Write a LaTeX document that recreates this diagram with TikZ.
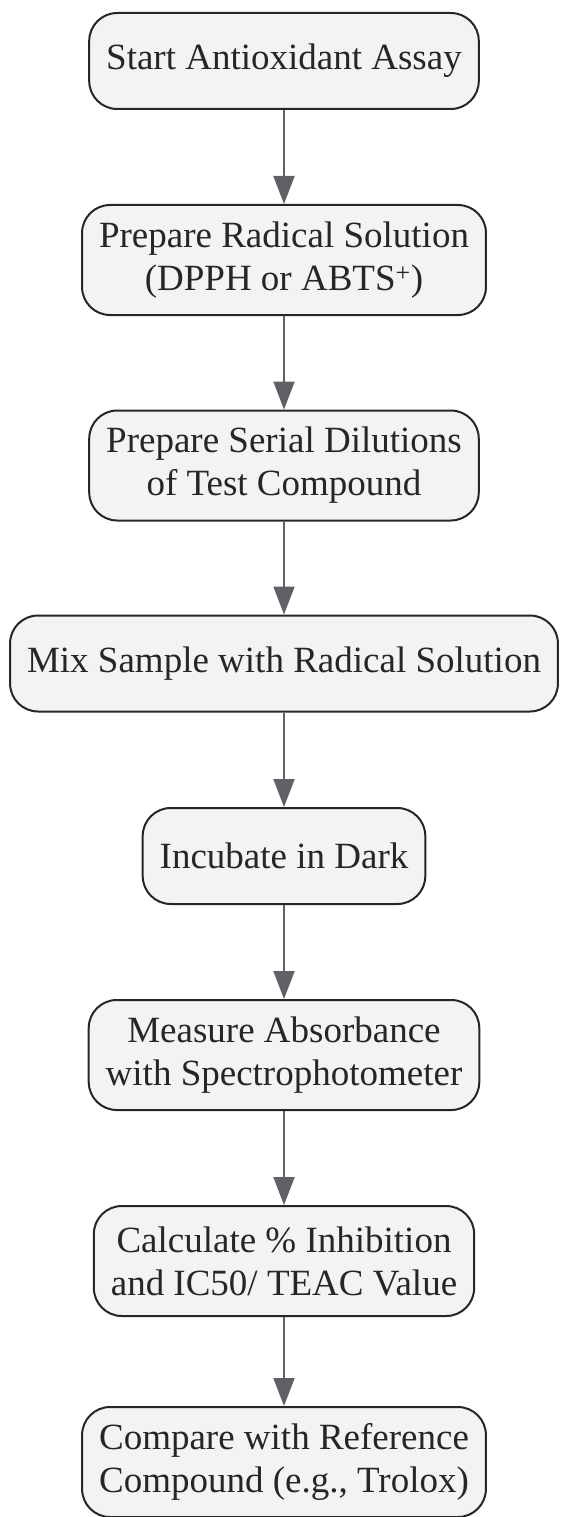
\documentclass[tikz,border=0pt]{standalone}
\usepackage{fontspec}
\setmainfont{Liberation Serif}
\usetikzlibrary{arrows.meta}
\definecolor{nodefill}{HTML}{F2F3F5}
\definecolor{nodeline}{HTML}{262626}
\definecolor{arrowcol}{HTML}{5F6166}
\definecolor{txtcol}{HTML}{262626}
\begin{document}
\begin{tikzpicture}[x=1pt,y=1pt,
  stepbox/.style={draw=nodeline, line width=2pt, fill=nodefill, rounded corners=28pt,
    inner xsep=17pt, inner ysep=0pt, align=center, text=txtcol,
    font=\fontsize{37}{43}\selectfont, minimum height=96pt},
  twoline/.style={minimum height=110pt},
  flow/.style={draw=arrowcol, line width=2pt, -{Triangle[length=28pt,width=21pt]}}]
\useasboundingbox (0,0) rectangle (560,-1517);
\node[stepbox] (n1) at (284,-61) {Start Antioxidant Assay};
\node[stepbox,twoline] (n2) at (284,-260) {Prepare Radical Solution\\(DPPH or ABTS\textsuperscript{+})};
\node[stepbox,twoline] (n3) at (284,-465.5) {Prepare Serial Dilutions\\of Test Compound};
\node[stepbox] (n4) at (284,-663.5) {Mix Sample with Radical Solution};
\node[stepbox] (n5) at (284,-856) {Incubate in Dark};
\node[stepbox,twoline] (n6) at (284,-1055) {Measure Absorbance\\with Spectrophotometer};
\node[stepbox,twoline] (n7) at (284,-1261) {Calculate \% Inhibition\\and IC50/ TEAC Value};
\node[stepbox,twoline] (n8) at (284,-1462) {Compare with Reference\\Compound (e.g., Trolox)};
\draw[flow] (n1) -- (n2);
\draw[flow] (n2) -- (n3);
\draw[flow] (n3) -- (n4);
\draw[flow] (n4) -- (n5);
\draw[flow] (n5) -- (n6);
\draw[flow] (n6) -- (n7);
\draw[flow] (n7) -- (n8);
\end{tikzpicture}
\end{document}
